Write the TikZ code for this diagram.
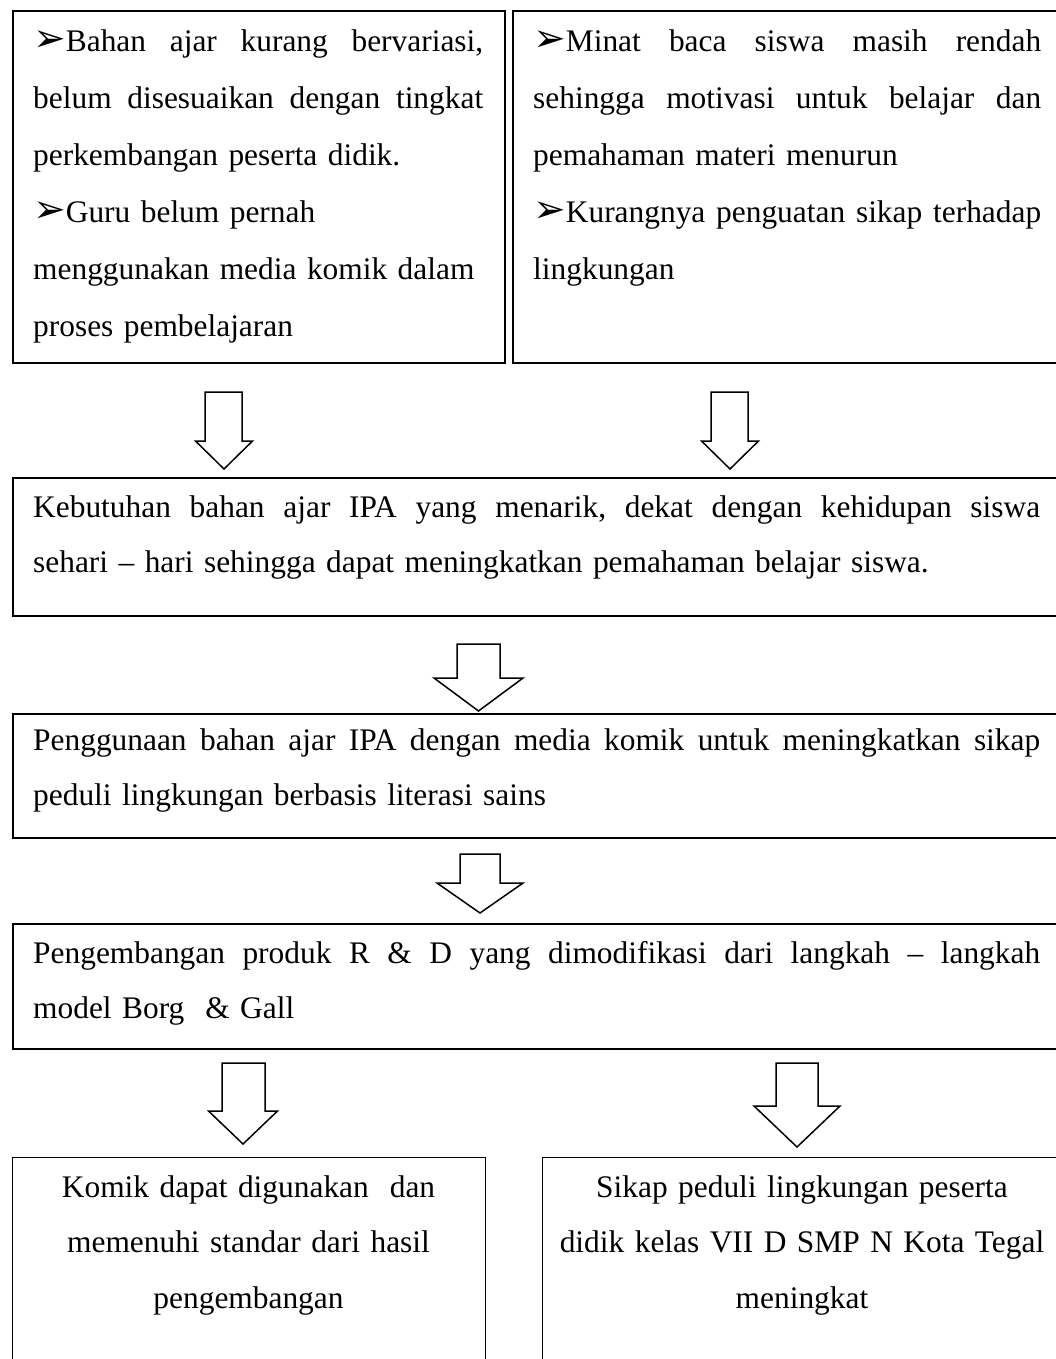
\documentclass[tikz,border=0pt]{standalone}
\usepackage{fontspec}
\setmainfont{Liberation Serif}
\newfontfamily\djv{DejaVu Sans}
\newcommand\bul{{\djv\fontsize{39}{39}\selectfont ➢}}
\newcommand\jl[2]{\leavevmode\hbox to #1{#2}}
\begin{document}
\begin{tikzpicture}[x=1pt,y=-1pt,
  box/.style={draw, line width=1.6pt, inner sep=0pt, anchor=north west},
  thinbox/.style={draw, line width=1.3pt, inner sep=0pt, anchor=north west},
  txt/.style={anchor=base west, inner sep=0pt, align=left, font=\fontsize{31.4}{57}\selectfont},
  txtb/.style={anchor=base west, inner sep=0pt, align=left, font=\fontsize{31.4}{55}\selectfont},
  ctxt/.style={anchor=base, inner sep=0pt, align=center, font=\fontsize{31.4}{55.5}\selectfont},
  barrow/.style={draw, line width=1.5pt, fill=white, line join=miter}]
\useasboundingbox (0,0) rectangle (1055,1359);

% boxes
\node[box, minimum width=492pt, minimum height=352pt] (b1) at (12,10) {};
\node[box, minimum width=550pt, minimum height=352pt] (b2) at (512,10) {};
\node[box, minimum width=1050pt, minimum height=138pt] (b3) at (12,477) {};
\node[box, minimum width=1050pt, minimum height=124pt] (b4) at (12,713) {};
\node[box, minimum width=1050pt, minimum height=125pt] (b5) at (12,923) {};
\node[thinbox, minimum width=473pt, minimum height=230pt] (b6) at (12,1157) {};
\node[thinbox, minimum width=520pt, minimum height=230pt] (b7) at (542,1157) {};

% texts
\node[txt, text width=450pt] (t1) at (33,52) {%
\jl{450pt}{\bul Bahan\hfill ajar\hfill kurang\hfill bervariasi,}\\
\jl{450pt}{belum\hfill disesuaikan\hfill dengan\hfill tingkat}\\
perkembangan peserta didik.\\
\bul Guru belum pernah\\
menggunakan media komik dalam\\
proses pembelajaran};

\node[txt, text width=508pt] (t2) at (533,52) {%
\jl{508pt}{\bul Minat\hfill baca\hfill siswa\hfill masih\hfill rendah}\\
\jl{508pt}{sehingga\hfill motivasi\hfill untuk\hfill belajar\hfill dan}\\
pemahaman materi menurun\\
\jl{508pt}{\bul Kurangnya\hfill penguatan\hfill sikap\hfill terhadap}\\
lingkungan};

\node[txtb, text width=1007pt] (t3) at (33,517) {%
\jl{1007pt}{Kebutuhan\hfill bahan\hfill ajar\hfill IPA\hfill yang\hfill menarik,\hfill dekat\hfill dengan\hfill kehidupan\hfill siswa}\\
sehari -- hari sehingga dapat meningkatkan pemahaman belajar siswa.};

\node[txtb, text width=1007pt] (t4) at (33,750) {%
\jl{1007pt}{Penggunaan\hfill bahan\hfill ajar\hfill IPA\hfill dengan\hfill media\hfill komik\hfill untuk\hfill meningkatkan\hfill sikap}\\
peduli lingkungan berbasis literasi sains};

\node[txtb, text width=1007pt] (t5) at (33,963) {%
\jl{1007pt}{Pengembangan\hfill produk\hfill R\hfill \&\hfill D\hfill yang\hfill dimodifikasi\hfill dari\hfill langkah\hfill --\hfill langkah}\\
model Borg\ \ \& Gall};

\node[ctxt, text width=470pt] (t6) at (248.5,1197) {%
Komik dapat digunakan\ \ dan\\
memenuhi standar dari hasil\\
pengembangan};

\node[ctxt, text width=515pt] (t7) at (802,1197) {%
Sikap peduli lingkungan peserta\\
didik kelas VII D SMP N Kota Tegal\\
meningkat};

% block arrows
\draw[barrow] (205,392) -- (242,392) -- (242,441) -- (252.5,441) -- (224,469) -- (195.5,441) -- (205,441) -- cycle;
\draw[barrow] (711,392) -- (748,392) -- (748,441) -- (758.5,441) -- (730,469) -- (701.5,441) -- (711,441) -- cycle;
\draw[barrow] (457,644) -- (500,644) -- (500,678) -- (523,678) -- (478.5,711) -- (434,678) -- (457,678) -- cycle;
\draw[barrow] (460,854) -- (500,854) -- (500,883) -- (523,883) -- (480,913) -- (437,883) -- (460,883) -- cycle;
\draw[barrow] (222,1063) -- (265,1063) -- (265,1111) -- (277.5,1111) -- (243,1144) -- (208.5,1111) -- (222,1111) -- cycle;
\draw[barrow] (776,1063) -- (818,1063) -- (818,1106) -- (840,1106) -- (797,1147) -- (754,1106) -- (776,1106) -- cycle;
\end{tikzpicture}
\end{document}
